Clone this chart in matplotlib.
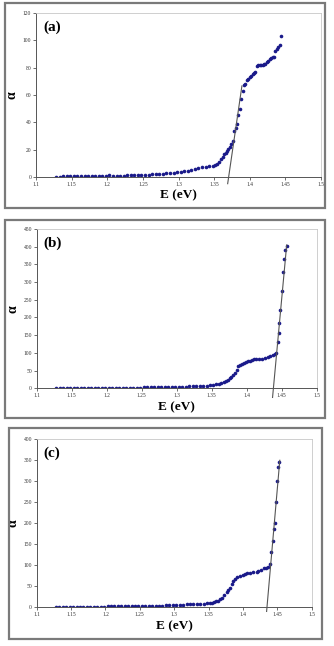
import matplotlib
matplotlib.use("Agg")
import matplotlib.pyplot as plt
from matplotlib.patches import Rectangle

# shared low-energy grid (eV)
E_low = [1.128, 1.133, 1.138, 1.143, 1.148, 1.153, 1.158, 1.163, 1.168, 1.173,
         1.178, 1.183, 1.188, 1.193, 1.198, 1.203, 1.208, 1.213, 1.218, 1.223,
         1.228, 1.233, 1.238, 1.243, 1.248, 1.253, 1.258, 1.263, 1.268, 1.273,
         1.278, 1.283, 1.288, 1.293, 1.298, 1.303, 1.308, 1.313, 1.318, 1.323,
         1.328, 1.333, 1.338, 1.343, 1.348]

# panel (a)
a_low = [0.3, 0.3, 0.4, 0.4, 0.4, 0.5, 0.5, 0.5, 0.6, 0.6,
         0.6, 0.7, 0.7, 0.8, 0.8, 1.2, 0.9, 0.9, 1.0, 1.0,
         1.1, 1.2, 1.3, 1.4, 1.6, 1.7, 1.8, 1.9, 2.0, 2.2,
         2.4, 2.7, 3.0, 3.2, 3.5, 3.9, 4.2, 4.6, 5.0, 5.8,
         6.6, 7.0, 7.3, 7.9, 8.4]
E_a = [1.351, 1.354, 1.357, 1.360, 1.362, 1.364, 1.366, 1.368, 1.370, 1.372,
       1.374, 1.376, 1.378, 1.380, 1.382, 1.384, 1.386, 1.388, 1.390, 1.392,
       1.394, 1.396, 1.398, 1.400, 1.402, 1.404, 1.406, 1.408, 1.410, 1.412,
       1.414, 1.416, 1.418, 1.420, 1.422, 1.424, 1.426, 1.428, 1.430, 1.432,
       1.434, 1.436, 1.438, 1.440, 1.442, 1.444]
alpha_a = [8.8, 9.6, 11, 13, 14.5, 16.5, 17.5, 19, 20.5, 22,
           24, 26, 34, 36, 39, 45, 50, 57, 63, 67,
           68, 71, 72, 73, 74, 75, 76, 77, 81, 82,
           82, 82, 82, 82.5, 83, 84, 85, 86.5, 87, 87.5,
           88, 92, 93.5, 95, 96.5, 103]
fit_a_E = [1.369, 1.389]
fit_a_alpha = [-4.9, 66.6]

# panel (b)
b_low = [0.5, 0.5, 0.6, 0.6, 0.7, 0.7, 0.8, 0.8, 0.9, 0.9,
         1.0, 1.0, 1.1, 1.1, 1.2, 1.3, 1.3, 1.4, 1.5, 1.6,
         1.7, 1.8, 1.9, 2.0, 2.1, 2.2, 2.3, 2.5, 2.6, 2.8,
         3.0, 3.2, 3.4, 3.6, 3.8, 4.1, 4.4, 4.8, 5.2, 5.6,
         6.0, 6.5, 7.0, 7.5, 8.0]
E_b = [1.352, 1.356, 1.360, 1.364, 1.367, 1.370, 1.373, 1.376, 1.378, 1.380,
       1.383, 1.386, 1.388, 1.390, 1.393, 1.396, 1.399, 1.402, 1.405, 1.408,
       1.411, 1.414, 1.418, 1.422, 1.426, 1.430, 1.434, 1.437, 1.440, 1.442,
       1.4443, 1.4457, 1.4467, 1.448, 1.4506, 1.4515, 1.4539, 1.4553, 1.4572]
alpha_b = [9, 11, 12.5, 14.5, 17, 20, 24, 28, 33, 37,
           42, 52, 62, 66, 69, 72, 74, 76, 78, 80,
           82, 82, 83, 84, 86, 87.5, 90, 93, 97, 101,
           132, 157, 185, 221, 276, 328, 365, 391, 401]
fit_b_E = [1.437, 1.4572]
fit_b_alpha = [-26, 405]

# panel (c)
c_low = [0.8, 0.8, 0.9, 0.9, 1.0, 1.0, 1.1, 1.1, 1.2, 1.2,
         1.3, 1.4, 1.5, 1.6, 1.7, 1.8, 1.9, 2.0, 2.1, 2.2,
         2.3, 2.4, 2.5, 2.6, 2.8, 2.9, 3.0, 3.2, 3.4, 3.6,
         3.8, 4.0, 4.3, 4.6, 4.9, 5.3, 5.7, 6.1, 6.6, 7.0,
         7.5, 7.9, 8.3, 8.8, 9.2]
E_c = [1.352, 1.355, 1.358, 1.361, 1.364, 1.367, 1.370, 1.373, 1.3765, 1.379,
       1.381, 1.3836, 1.386, 1.389, 1.392, 1.396, 1.400, 1.403, 1.406, 1.410,
       1.415, 1.420, 1.4225, 1.426, 1.430, 1.434, 1.437, 1.4395, 1.4414, 1.4434,
       1.4453, 1.4467, 1.448, 1.450, 1.4516, 1.453]
alpha_c = [10, 11, 12.5, 14, 16, 19, 23, 28, 36, 40,
           45, 55, 63, 67, 72, 74, 76, 78, 82, 82,
           83, 84, 86, 88, 93, 94, 96, 103, 132, 158,
           186, 200, 250, 301, 335, 345]
fit_c_E = [1.4345, 1.4537]
fit_c_alpha = [-10, 350]

x_ticks = [1.1, 1.15, 1.2, 1.25, 1.3, 1.35, 1.4, 1.45, 1.5]
x_labels = ["1.1", "1.15", "1.2", "1.25", "1.3", "1.35", "1.4", "1.45", "1.5"]

SERIF = "Liberation Serif"
DOT = "#1a1a8a"

fig = plt.figure(figsize=(3.34, 6.46), dpi=100)

# outer frames (pixels: x0, y0 top, x1, y1 bottom)
W, H = 334, 646
for x0, y0, x1, y1 in [(5, 3, 325, 208), (5, 220, 325, 418), (9, 428, 322, 639)]:
    fig.patches.append(Rectangle((x0 / W, 1 - y1 / H), (x1 - x0) / W, (y1 - y0) / H,
                                 transform=fig.transFigure, fill=False,
                                 edgecolor="#7a7a7a", linewidth=1.6))

panels = [
    ("(a)", [0.108, 0.726, 0.853, 0.254], a_low, E_a, alpha_a, fit_a_E, fit_a_alpha, 120, 20),
    ("(b)", [0.110, 0.399, 0.838, 0.2465], b_low, E_b, alpha_b, fit_b_E, fit_b_alpha, 450, 50),
    ("(c)", [0.110, 0.060, 0.823, 0.260], c_low, E_c, alpha_c, fit_c_E, fit_c_alpha, 400, 50),
]

for tag, rect, low, E_r, al_r, fE, fal, ymax, ystep in panels:
    ax = fig.add_axes(rect)
    ax.plot(E_low, low, "o", color=DOT, markersize=2.6, markeredgewidth=0)
    ax.plot(E_r, al_r, "o", color=DOT, markersize=2.6, markeredgewidth=0)
    ax.plot(fE, fal, "-", color="#555555", linewidth=0.8, clip_on=False)

    ax.set_xlim(1.1, 1.5)
    ax.set_ylim(0, ymax)
    ax.set_xticks(x_ticks)
    ax.set_xticklabels(x_labels)
    ax.set_yticks(list(range(0, ymax + 1, ystep)))
    for lab in ax.get_xticklabels() + ax.get_yticklabels():
        lab.set_fontfamily(SERIF)
        lab.set_fontsize(4)
    ax.tick_params(length=2, width=0.5, pad=1.5, colors="#333333")
    ax.tick_params(top=False, right=False)

    for side in ["left", "bottom"]:
        ax.spines[side].set_color("#555555")
        ax.spines[side].set_linewidth(0.7)
    for side in ["top", "right"]:
        ax.spines[side].set_color("#c8c8c8")
        ax.spines[side].set_linewidth(0.6)

    ax.set_xlabel("E (eV)", fontfamily=SERIF, fontsize=9.5, fontweight="bold", labelpad=2)
    ax.set_ylabel("α", fontfamily=SERIF, fontsize=10, fontweight="bold", labelpad=3)
    ax.text(0.025, 0.955, tag, transform=ax.transAxes, ha="left", va="top",
            fontfamily=SERIF, fontsize=11, fontweight="bold")

fig.savefig("out.png", dpi=100)
